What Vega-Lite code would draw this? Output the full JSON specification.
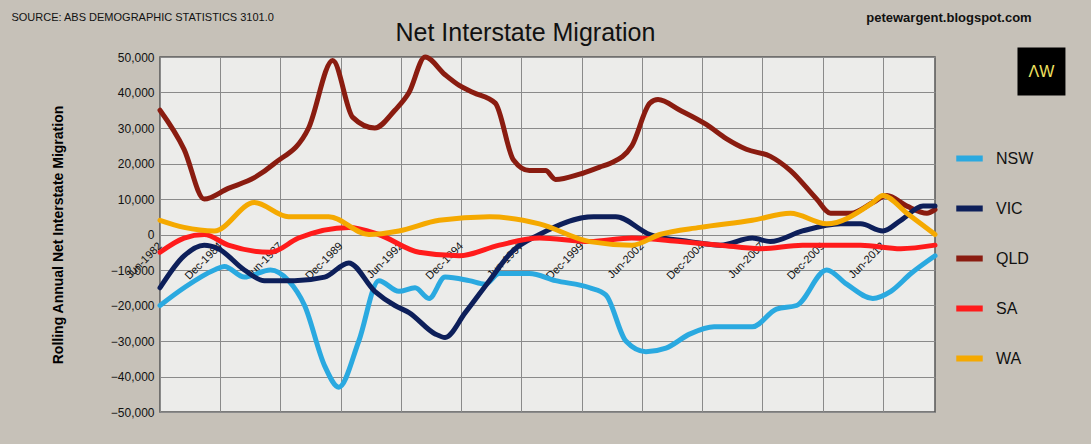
{
  "$schema": "https://vega.github.io/schema/vega-lite/v6.json",
  "width": 775,
  "height": 355,
  "autosize": "none",
  "padding": {"left": 160, "top": 57, "right": 156, "bottom": 32},
  "background": "#c6c1b8",
  "config": {
    "view": {"fill": "#ececea", "stroke": "#555", "strokeWidth": 1.5},
    "font": "Liberation Sans"
  },
  "datasets": {
    "m": [
      {"s":"QLD","d":"1982-06","v":35000},{"s":"QLD","d":"1983-06","v":24000},{"s":"QLD","d":"1984-04","v":10000},{"s":"QLD","d":"1985-04","v":13000},{"s":"QLD","d":"1986-05","v":16000},{"s":"QLD","d":"1987-03","v":20000},{"s":"QLD","d":"1988-08","v":30000},{"s":"QLD","d":"1989-08","v":49000},{"s":"QLD","d":"1990-06","v":33000},{"s":"QLD","d":"1991-05","v":30000},{"s":"QLD","d":"1992-03","v":35000},{"s":"QLD","d":"1992-10","v":40000},{"s":"QLD","d":"1993-06","v":50000},{"s":"QLD","d":"1994-04","v":45000},{"s":"QLD","d":"1994-11","v":42000},{"s":"QLD","d":"1995-06","v":40000},{"s":"QLD","d":"1996-05","v":37000},{"s":"QLD","d":"1997-02","v":21000},{"s":"QLD","d":"1997-10","v":18000},{"s":"QLD","d":"1998-06","v":18000},{"s":"QLD","d":"1998-11","v":15500},{"s":"QLD","d":"1999-11","v":17000},{"s":"QLD","d":"2000-09","v":19000},{"s":"QLD","d":"2001-02","v":20000},{"s":"QLD","d":"2002-01","v":25000},{"s":"QLD","d":"2002-10","v":37000},{"s":"QLD","d":"2003-02","v":38000},{"s":"QLD","d":"2004-01","v":35000},{"s":"QLD","d":"2005-02","v":31000},{"s":"QLD","d":"2005-12","v":27000},{"s":"QLD","d":"2006-10","v":24000},{"s":"QLD","d":"2007-10","v":22000},{"s":"QLD","d":"2008-08","v":18000},{"s":"QLD","d":"2009-09","v":10000},{"s":"QLD","d":"2010-04","v":6000},{"s":"QLD","d":"2011-02","v":6000},{"s":"QLD","d":"2012-01","v":9000},{"s":"QLD","d":"2012-08","v":11000},{"s":"QLD","d":"2013-06","v":8000},{"s":"QLD","d":"2014-04","v":6000},{"s":"QLD","d":"2014-08","v":7000},

      {"s":"NSW","d":"1982-06","v":-20000},{"s":"NSW","d":"1983-06","v":-15000},{"s":"NSW","d":"1984-09","v":-10000},{"s":"NSW","d":"1985-02","v":-9000},{"s":"NSW","d":"1985-12","v":-12000},{"s":"NSW","d":"1987-01","v":-10000},{"s":"NSW","d":"1987-10","v":-13000},{"s":"NSW","d":"1988-06","v":-20000},{"s":"NSW","d":"1989-04","v":-37000},{"s":"NSW","d":"1989-11","v":-43000},{"s":"NSW","d":"1990-09","v":-30000},{"s":"NSW","d":"1991-07","v":-13000},{"s":"NSW","d":"1992-05","v":-16000},{"s":"NSW","d":"1993-01","v":-15000},{"s":"NSW","d":"1993-08","v":-18000},{"s":"NSW","d":"1994-04","v":-12000},{"s":"NSW","d":"1995-04","v":-13000},{"s":"NSW","d":"1995-12","v":-14000},{"s":"NSW","d":"1996-07","v":-11000},{"s":"NSW","d":"1997-10","v":-11000},{"s":"NSW","d":"1998-11","v":-13000},{"s":"NSW","d":"2000-04","v":-15000},{"s":"NSW","d":"2000-12","v":-17000},{"s":"NSW","d":"2001-10","v":-30000},{"s":"NSW","d":"2002-08","v":-33000},{"s":"NSW","d":"2003-06","v":-32000},{"s":"NSW","d":"2004-06","v":-28000},{"s":"NSW","d":"2005-06","v":-26000},{"s":"NSW","d":"2007-01","v":-26000},{"s":"NSW","d":"2008-01","v":-21000},{"s":"NSW","d":"2008-11","v":-20000},{"s":"NSW","d":"2010-02","v":-10000},{"s":"NSW","d":"2010-12","v":-14000},{"s":"NSW","d":"2012-01","v":-18000},{"s":"NSW","d":"2012-10","v":-16000},{"s":"NSW","d":"2013-08","v":-11000},{"s":"NSW","d":"2014-08","v":-6000},

      {"s":"VIC","d":"1982-06","v":-15000},{"s":"VIC","d":"1983-06","v":-6000},{"s":"VIC","d":"1984-04","v":-3000},{"s":"VIC","d":"1984-11","v":-4000},{"s":"VIC","d":"1985-12","v":-10000},{"s":"VIC","d":"1986-10","v":-13000},{"s":"VIC","d":"1988-01","v":-13000},{"s":"VIC","d":"1989-04","v":-12000},{"s":"VIC","d":"1990-04","v":-8000},{"s":"VIC","d":"1991-05","v":-16000},{"s":"VIC","d":"1992-03","v":-20000},{"s":"VIC","d":"1992-10","v":-22000},{"s":"VIC","d":"1993-11","v":-28000},{"s":"VIC","d":"1994-04","v":-29000},{"s":"VIC","d":"1995-02","v":-22000},{"s":"VIC","d":"1996-02","v":-13000},{"s":"VIC","d":"1997-01","v":-5000},{"s":"VIC","d":"1998-03","v":0},{"s":"VIC","d":"2000-06","v":5000},{"s":"VIC","d":"2001-05","v":5000},{"s":"VIC","d":"2002-10","v":0},{"s":"VIC","d":"2004-06","v":-2000},{"s":"VIC","d":"2005-09","v":-3000},{"s":"VIC","d":"2007-01","v":-1000},{"s":"VIC","d":"2007-10","v":-2000},{"s":"VIC","d":"2009-02","v":1000},{"s":"VIC","d":"2010-09","v":3000},{"s":"VIC","d":"2011-07","v":3000},{"s":"VIC","d":"2012-06","v":1000},{"s":"VIC","d":"2013-03","v":4000},{"s":"VIC","d":"2014-02","v":8000},{"s":"VIC","d":"2014-08","v":8000},

      {"s":"SA","d":"1982-06","v":-5000},{"s":"SA","d":"1983-06","v":-1000},{"s":"SA","d":"1984-04","v":0},{"s":"SA","d":"1985-04","v":-3000},{"s":"SA","d":"1987-01","v":-5000},{"s":"SA","d":"1988-03","v":-1000},{"s":"SA","d":"1990-04","v":2000},{"s":"SA","d":"1991-07","v":0},{"s":"SA","d":"1993-03","v":-5000},{"s":"SA","d":"1994-11","v":-6000},{"s":"SA","d":"1996-07","v":-3000},{"s":"SA","d":"1998-03","v":-1000},{"s":"SA","d":"2000-04","v":-2000},{"s":"SA","d":"2002-01","v":-1000},{"s":"SA","d":"2004-01","v":-2000},{"s":"SA","d":"2005-09","v":-3000},{"s":"SA","d":"2007-05","v":-4000},{"s":"SA","d":"2009-02","v":-3000},{"s":"SA","d":"2011-07","v":-3000},{"s":"SA","d":"2013-03","v":-4000},{"s":"SA","d":"2014-08","v":-3000},

      {"s":"WA","d":"1982-06","v":4000},{"s":"WA","d":"1983-06","v":2000},{"s":"WA","d":"1984-09","v":1000},{"s":"WA","d":"1986-05","v":9000},{"s":"WA","d":"1987-10","v":5000},{"s":"WA","d":"1989-06","v":5000},{"s":"WA","d":"1991-02","v":0},{"s":"WA","d":"1992-05","v":1000},{"s":"WA","d":"1994-01","v":4000},{"s":"WA","d":"1996-02","v":5000},{"s":"WA","d":"1998-03","v":3000},{"s":"WA","d":"2000-04","v":-2000},{"s":"WA","d":"2002-01","v":-3000},{"s":"WA","d":"2003-03","v":0},{"s":"WA","d":"2004-11","v":2000},{"s":"WA","d":"2007-01","v":4000},{"s":"WA","d":"2008-08","v":6000},{"s":"WA","d":"2010-02","v":3000},{"s":"WA","d":"2012-01","v":9000},{"s":"WA","d":"2012-06","v":11000},{"s":"WA","d":"2013-06","v":6000},{"s":"WA","d":"2014-08","v":0}
    ]
  },
  "encoding": {
    "x": {
      "field": "d", "type": "temporal",
      "scale": {"domain": ["1982-06-01", "2014-08-01"]},
      "axis": {
        "title": null,
        "values": ["1982-06-01","1984-12-01","1987-06-01","1989-12-01","1992-06-01","1994-12-01","1997-06-01","1999-12-01","2002-06-01","2004-12-01","2007-06-01","2009-12-01","2012-06-01"],
        "format": "%b-%Y", "labelAngle": -45, "labelAlign": "right", "labelBaseline": "middle",
        "labelFontSize": 11, "labelColor": "#111", "offset": -170, "domain": false, "ticks": false,
        "grid": true, "gridColor": "#8a8a8a", "gridWidth": 1, "labelPadding": 2, "labelOverlap": false
      }
    },
    "y": {
      "field": "v", "type": "quantitative",
      "scale": {"domain": [-50000, 50000]},
      "axis": {
        "title": "Rolling Annual Net Interstate Migration", "titleFontSize": 14, "titleFontWeight": "bold", "titleColor": "#000", "titlePadding": 45,
        "values": [-50000,-40000,-30000,-20000,-10000,0,10000,20000,30000,40000,50000],
        "format": ",.0f", "labelFontSize": 12, "labelColor": "#111", "grid": true, "gridColor": "#8a8a8a",
        "domain": false, "ticks": false, "labelPadding": 6, "labelOverlap": false
      }
    }
  },
  "layer": [
    {
      "data": {"name": "m"},
      "mark": {"type": "line", "strokeWidth": 5, "interpolate": "monotone", "strokeCap": "round"},
      "encoding": {
        "color": {
          "field": "s", "type": "nominal",
          "scale": {"domain": ["NSW","VIC","QLD","SA","WA"], "range": ["#2aa9e0","#0d1f5a","#8a1c10","#ff1b1b","#f5a900"]},
          "legend": {
            "title": null, "orient": "none", "legendX": 793, "legendY": 85,
            "symbolType": "stroke", "symbolStrokeWidth": 6, "symbolSize": 700,
            "labelFontSize": 16, "labelColor": "#111", "rowPadding": 21, "labelOffset": 10
          }
        }
      }
    },
    {
      "data": {"values": [{"d":"1976-04","v":61000,"t":"SOURCE: ABS DEMOGRAPHIC STATISTICS 3101.0"}]},
      "mark": {"type": "text", "clip": false, "color": "#111", "align": "left", "fontSize": 11},
      "encoding": {"text": {"field": "t"}}
    },
    {
      "data": {"values": [{"d":"2015-03","v":61000,"t":"petewargent.blogspot.com"}]},
      "mark": {"type": "text", "clip": false, "color": "#111", "align": "center", "fontSize": 13, "fontWeight": "bold"},
      "encoding": {"text": {"field": "t"}}
    },
    {
      "data": {"values": [{"d":"1997-08","v":56900,"t":"Net Interstate Migration"}]},
      "mark": {"type": "text", "clip": false, "color": "#111", "align": "center", "fontSize": 25},
      "encoding": {"text": {"field": "t"}}
    },
    {
      "data": {"values": [{"d":"2019-01","v":45900}]},
      "mark": {"type": "square", "size": 2300, "color": "#000", "opacity": 1, "clip": false},
      "encoding": {}
    },
    {
      "data": {"values": [{"d":"2019-01","v":45900,"t":"ΛW"}]},
      "mark": {"type": "text", "color": "#f0e060", "fontSize": 16, "clip": false, "baseline": "middle"},
      "encoding": {"text": {"field": "t"}}
    }
  ]
}
